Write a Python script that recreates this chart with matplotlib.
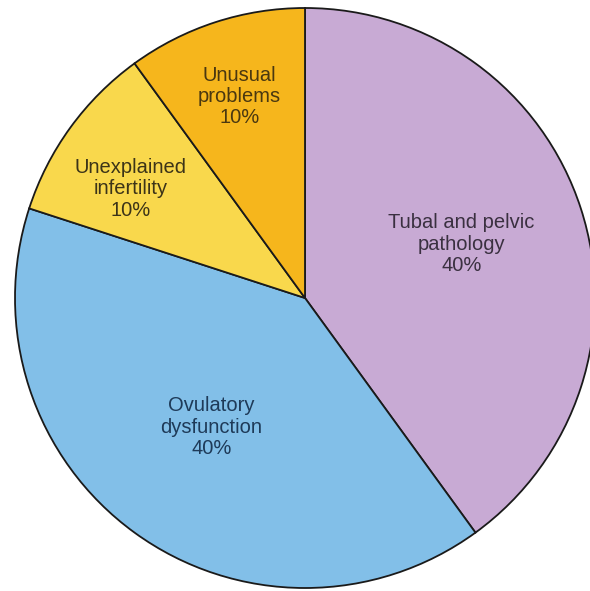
import numpy as np
import matplotlib.pyplot as plt

# shares of the causes of infertility (clockwise from the top)
labels = ['Tubal and pelvic\npathology', 'Ovulatory\ndysfunction',
          'Unexplained\ninfertility', 'Unusual\nproblems']
shares = [40, 40, 10, 10]
colors = ['#c8aad4', '#82bfe8', '#f9d84c', '#f6b61c']
text_colors = ['#3a3040', '#1e3a58', '#3c3418', '#4a3810']

# label placement: radius fraction and angle (deg) in pie coordinates
label_r = [0.57, 0.55, 0.71, 0.73]
label_ang = [19, 234, 148, 108]

fig = plt.figure(figsize=(5.90, 5.91), dpi=100)
ax = fig.add_axes([0, 0, 1, 1])

wedges, _ = ax.pie(shares, colors=colors, startangle=90, counterclock=False,
                   radius=1.0,
                   wedgeprops=dict(edgecolor='#1a1a1a', linewidth=1.3))

for lab, s, tc, r, a in zip(labels, shares, text_colors, label_r, label_ang):
    t = np.deg2rad(a)
    ax.text(r * np.cos(t), r * np.sin(t), f'{lab}\n{s}%', ha='center', va='center',
            fontsize=14.5, color=tc, family='Liberation Sans', linespacing=1.15)

# pie centre at (305, 298) px with radius 290 px
R = 290.0
ax.set_xlim(-305 / R, (590 - 305) / R)
ax.set_ylim(-(591 - 298) / R, 298 / R)
ax.set_aspect('auto')
ax.axis('off')

fig.savefig('out.png', dpi=100)
